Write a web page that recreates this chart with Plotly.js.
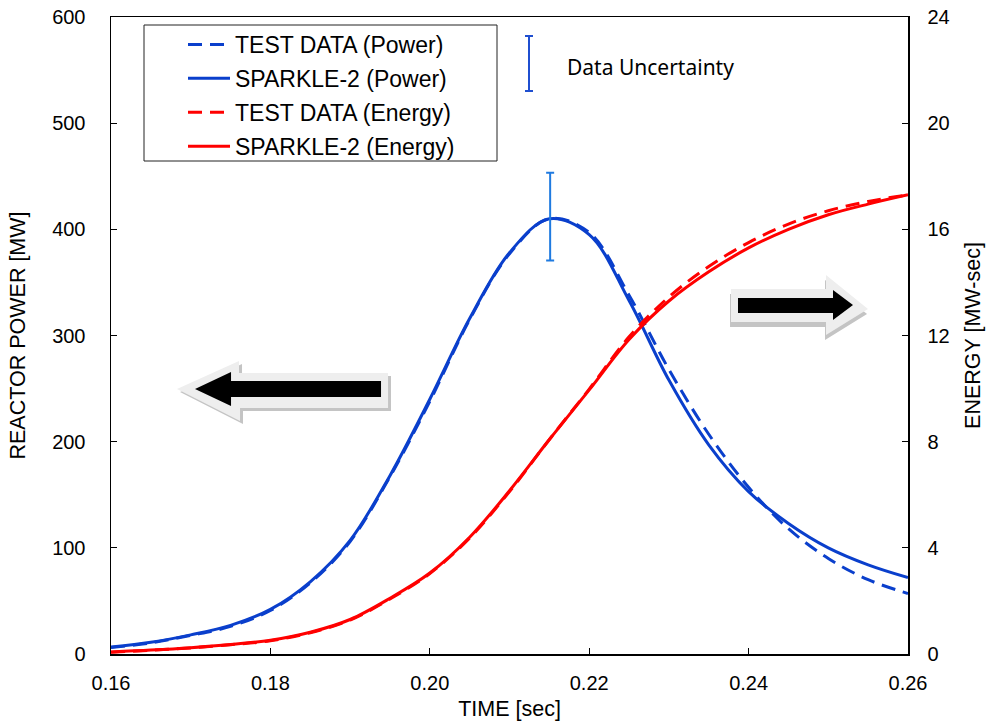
<!DOCTYPE html>
<html>
<head>
<meta charset="utf-8">
<script src="https://cdn.plot.ly/plotly-3.0.1.min.js"></script>
<style>html,body{margin:0;padding:0;background:#fff;}#chart{width:989px;height:727px;}</style>
</head>
<body>
<div id="chart"></div>
<script>
// ---- data ----
const time = [0.160,0.165,0.170,0.175,0.180,0.185,0.190,0.195,0.200,0.205,0.210,0.215,0.220,0.225,0.230,0.235,0.240,0.245,0.250,0.255,0.260];
const testPower    = [6,10.5,17.5,26,41,67,106,167,238,315,377,410,397,338,268,207,157,118,90,70,57];
const sparklePower = [6.5,11,18,27,42,68,107,168,240,316,378,410,395,333,258,197,153,123,100,84,72];
const testEnergy    = [0.07,0.14,0.23,0.35,0.5,0.8,1.28,2.07,3.03,4.37,6.12,8.08,9.98,11.95,13.45,14.6,15.5,16.2,16.7,17.05,17.3];
const sparkleEnergy = [0.08,0.15,0.24,0.36,0.52,0.82,1.3,2.1,3.05,4.4,6.15,8.08,9.95,11.85,13.3,14.4,15.3,16.0,16.55,16.95,17.3];
const errTime = [0.2151];
const errPower = [412];
const errSize = [41.4];
const seriesNames = ['TEST DATA (Power)','SPARKLE-2 (Power)','TEST DATA (Energy)','SPARKLE-2 (Energy)'];
const powerTicks = [0,100,200,300,400,500,600];
const energyTicks = [0,4,8,12,16,20,24];
const timeTicks = [0.16,0.18,0.20,0.22,0.24,0.26];

// ---- layout helpers ----
const W = 989, H = 727, ML = 111, MR = 81, MT = 17, MB = 73;
const PW = W - ML - MR, PH = H - MT - MB;
const X = px => (px - ML) / PW;
const Y = py => (H - MB - py) / PH;
const poly = pts => 'M' + pts.map(p => X(p[0]).toFixed(4) + ',' + Y(p[1]).toFixed(4)).join('L') + 'Z';
const shift = (pts, dx, dy) => pts.map(p => [p[0] + dx, p[1] + dy]);

const BLUE = '#0a3fcc', RED = '#ff0000';
const DASH = '14px,8px';

const traces = [
  {x: time, y: testPower, name: seriesNames[0], mode: 'lines', line: {color: BLUE, width: 3, dash: DASH, shape: 'spline'}, legendgroup: 'a'},
  {x: time, y: sparklePower, name: seriesNames[1], mode: 'lines', line: {color: BLUE, width: 3, shape: 'spline'}, legendgroup: 'b'},
  {x: time, y: testEnergy, name: seriesNames[2], yaxis: 'y2', mode: 'lines', line: {color: RED, width: 3, dash: DASH, shape: 'spline'}, legendgroup: 'c'},
  {x: time, y: sparkleEnergy, name: seriesNames[3], yaxis: 'y2', mode: 'lines', line: {color: RED, width: 3, shape: 'spline'}, legendgroup: 'd'},
  {x: errTime, y: errPower, mode: 'markers', marker: {size: 1, opacity: 0}, showlegend: false,
   error_y: {type: 'data', array: errSize, visible: true, color: '#1f7ae0', thickness: 2, width: 4}}
];

// arrows
const leftOuter = [[177,389],[239,361],[239,373],[388,373],[388,408],[240,408],[240,421]];
const leftInner = [[195,389],[231,372],[231,381],[381,381],[381,397],[231,397],[231,406]];
const rightOuter = [[731,289],[826,289],[826,275],[868,309],[826,335],[826,322],[731,322]];
const rightInner = [[738,298],[833,298],[833,290],[853,305],[833,320],[833,313],[738,313]];

const shapes = [
  {type:'path', xref:'paper', yref:'paper', path: poly(shift(leftOuter,3,3)), fillcolor:'#c4c4c4', line:{width:0}},
  {type:'path', xref:'paper', yref:'paper', path: poly(leftOuter), fillcolor:'#eeeeee', line:{width:0}},
  {type:'path', xref:'paper', yref:'paper', path: poly(leftInner), fillcolor:'#000000', line:{width:0}},
  {type:'path', xref:'paper', yref:'paper', path: poly(shift(rightOuter,-1,5)), fillcolor:'#c4c4c4', line:{width:0}},
  {type:'path', xref:'paper', yref:'paper', path: poly(rightOuter), fillcolor:'#eeeeee', line:{width:0}},
  {type:'path', xref:'paper', yref:'paper', path: poly(rightInner), fillcolor:'#000000', line:{width:0}},
  // legend box
  {type:'rect', xref:'paper', yref:'paper', x0: X(144), x1: X(497), y0: Y(161), y1: Y(25), line:{color:'#222', width:1}},
  // data-uncertainty key
  {type:'line', xref:'paper', yref:'paper', x0: X(529), x1: X(529), y0: Y(36), y1: Y(91), line:{color:'#1f4fd0', width:2}},
  {type:'line', xref:'paper', yref:'paper', x0: X(525), x1: X(533), y0: Y(36), y1: Y(36), line:{color:'#1f4fd0', width:2}},
  {type:'line', xref:'paper', yref:'paper', x0: X(525), x1: X(533), y0: Y(91), y1: Y(91), line:{color:'#1f4fd0', width:2}}
];

const tickFont = {family: 'Liberation Sans, Arial, sans-serif', size: 20, color: '#000'};
const titleFont = {family: 'Liberation Sans, Arial, sans-serif', size: 21.5, color: '#000'};

const layout = {
  width: W, height: H,
  margin: {l: ML, r: MR, t: MT, b: MB, pad: 0},
  paper_bgcolor: '#fff', plot_bgcolor: '#fff',
  showlegend: true,
  legend: {x: X(183), y: Y(23), xanchor: 'left', yanchor: 'top', bgcolor: 'rgba(0,0,0,0)', borderwidth: 0,
           font: {family: 'Liberation Sans, Arial, sans-serif', size: 23, color: '#000'},
           tracegroupgap: 1, itemwidth: 42},
  xaxis: {range: [0.16, 0.26], tickvals: timeTicks, ticktext: timeTicks.map(v => v.toFixed(2)),
          ticks: 'inside', ticklen: 6, tickcolor: '#000', tickwidth: 1,
          showline: true, linecolor: '#000', linewidth: 1.5, mirror: true,
          showgrid: false, zeroline: false, tickfont: tickFont, ticklabelstandoff: 10,
          title: {text: 'TIME [sec]', font: titleFont, standoff: 8}, automargin: false},
  yaxis: {range: [0, 600], tickvals: powerTicks, ticks: 'inside', ticklen: 6, tickcolor: '#000',
          showline: true, linecolor: '#000', linewidth: 1.5, showgrid: false, zeroline: false,
          tickfont: tickFont, ticklabelstandoff: 20,
          title: {text: 'REACTOR POWER [MW]', font: titleFont, standoff: 20}, automargin: false},
  yaxis2: {range: [0, 24], tickvals: energyTicks, overlaying: 'y', side: 'right', ticks: 'inside', ticklen: 6,
           tickcolor: '#000', showline: true, linecolor: '#000', linewidth: 1.5, showgrid: false, zeroline: false,
           tickfont: tickFont, ticklabelstandoff: 14,
           title: {text: 'ENERGY [MW-sec]', font: titleFont, standoff: 16}, automargin: false},
  shapes: shapes,
  annotations: [
    {xref: 'paper', yref: 'paper', x: X(565), y: Y(67), xanchor: 'left', yanchor: 'middle', showarrow: false,
     text: 'Data Uncertainty', font: {family: 'Noto Sans, Open Sans, sans-serif', size: 21, color: '#000'}}
  ]
};

Plotly.newPlot('chart', traces, layout, {displayModeBar: false, staticPlot: true});
</script>
</body>
</html>
